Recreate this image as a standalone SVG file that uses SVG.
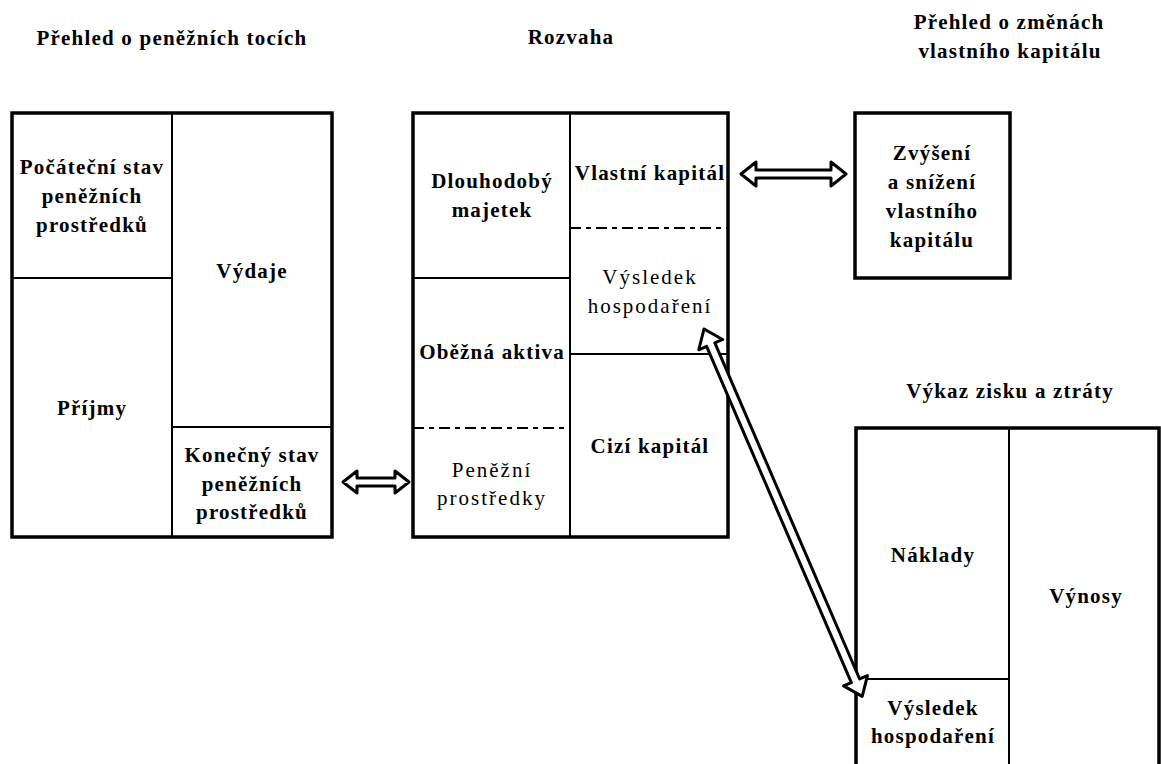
<svg xmlns="http://www.w3.org/2000/svg" width="1161" height="764" viewBox="0 0 1161 764">
<style>
text{font-family:'Liberation Serif','Times New Roman',Tinos,'DejaVu Serif',serif;font-size:21px;text-anchor:middle;fill:#000}
.b{font-weight:bold;letter-spacing:1.2px}
.r{font-weight:normal;letter-spacing:2px}
.box{fill:#fff;stroke:#000;stroke-width:3.5}
.ln{stroke:#000;stroke-width:2;fill:none}
.dash{stroke:#000;stroke-width:2;fill:none;stroke-dasharray:11 5 5 5}
.arr{fill:#fff;stroke:#000;stroke-width:3;stroke-linejoin:round}
</style>
<rect width="1161" height="764" fill="#fff"/>
<g id="titles" font-family="Liberation Serif, serif">
<text class="b" x="172" y="45">Přehled o peněžních tocích</text>
<text class="b" x="571" y="44">Rozvaha</text>
<text class="b" x="1009" y="29">Přehled o změnách</text>
<text class="b" x="1010" y="58">vlastního kapitálu</text>
<text class="b" x="1010" y="398">Výkaz zisku a ztráty</text>
</g>
<g id="cashflow">
<rect class="box" x="12" y="113" width="320" height="424"/>
<line class="ln" x1="172" y1="113" x2="172" y2="537"/>
<line class="ln" x1="12" y1="278" x2="172" y2="278"/>
<line class="ln" x1="172" y1="427" x2="332" y2="427"/>
<text class="b" x="92" y="174">Počáteční stav</text>
<text class="b" x="92" y="203">peněžních</text>
<text class="b" x="92" y="232">prostředků</text>
<text class="b" x="252" y="278">Výdaje</text>
<text class="b" x="92" y="415">Příjmy</text>
<text class="b" x="252" y="462">Konečný stav</text>
<text class="b" x="252" y="491">peněžních</text>
<text class="b" x="252" y="519">prostředků</text>
</g>
<g id="balance">
<rect class="box" x="413" y="113" width="315" height="424"/>
<line class="ln" x1="570" y1="113" x2="570" y2="537"/>
<line class="ln" x1="413" y1="278" x2="570" y2="278"/>
<line class="dash" x1="413" y1="428" x2="570" y2="428"/>
<line class="dash" x1="570" y1="228" x2="728" y2="228"/>
<line class="ln" x1="570" y1="354" x2="728" y2="354"/>
<text class="b" x="492" y="188">Dlouhodobý</text>
<text class="b" x="492" y="217">majetek</text>
<text class="b" x="492" y="359">Oběžná aktiva</text>
<text class="r" x="492" y="477">Peněžní</text>
<text class="r" x="492" y="505">prostředky</text>
<text class="b" x="650" y="180">Vlastní kapitál</text>
<text class="r" x="650" y="284">Výsledek</text>
<text class="r" x="650" y="313">hospodaření</text>
<text class="b" x="650" y="453">Cizí kapitál</text>
</g>
<g id="equity">
<rect class="box" x="855" y="113" width="155" height="165"/>
<text class="b" x="932" y="160">Zvýšení</text>
<text class="b" x="932" y="189">a snížení</text>
<text class="b" x="932" y="218">vlastního</text>
<text class="b" x="932" y="247">kapitálu</text>
</g>
<g id="income">
<rect class="box" x="856" y="428" width="303" height="360"/>
<line class="ln" x1="1009" y1="428" x2="1009" y2="790"/>
<line class="ln" x1="856" y1="679" x2="1009" y2="679"/>
<text class="b" x="933" y="562">Náklady</text>
<text class="b" x="1086" y="603">Výnosy</text>
<text class="b" x="933" y="715">Výsledek</text>
<text class="b" x="933" y="743">hospodaření</text>
</g>
<g id="connectors">
<polygon class="arr" transform="translate(343,482)" points="0,0 14,-11 14,-4 52,-4 52,-11 66,0 52,11 52,4 14,4 14,11"/>
<polygon class="arr" transform="translate(741,174)" points="0,0 15,-12 15,-4 90,-4 90,-12 105,0 90,12 90,4 15,4 15,12"/>
<polygon class="arr" transform="translate(704,329) rotate(66.7)" points="0,0 17,-13 17,-4.5 383,-4.5 383,-13 400,0 383,13 383,4.5 17,4.5 17,13"/>
</g>
</svg>
